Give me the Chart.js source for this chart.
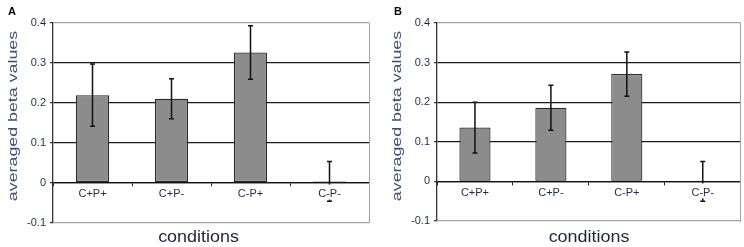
<!DOCTYPE html>
<html><head><meta charset="utf-8">
<script src="https://cdn.jsdelivr.net/npm/chart.js@4/dist/chart.umd.min.js"></script>
<style>
html,body{margin:0;padding:0;background:#fff;}
#wrap{position:relative;width:744px;height:247px;overflow:hidden;}
.cell{position:absolute;top:0;width:372px;height:247px;}
canvas{display:block;}
</style></head><body>
<div id="wrap">
<div class="cell" style="left:0"><canvas id="cA" width="372" height="247"></canvas></div>
<div class="cell" style="left:372px"><canvas id="cB" width="372" height="247"></canvas></div>
</div>
<script>
const categories = ['C+P+', 'C+P-', 'C-P+', 'C-P-'];
const valuesA = [0.219, 0.210, 0.326, 0.003];
const errorsA = [0.078, 0.050, 0.067, 0.050];
const valuesB = [0.136, 0.186, 0.271, 0.0];
const errorsB = [0.064, 0.057, 0.056, 0.050];
const yTickLabels = ['-0.1', '0', '0.1', '0.2', '0.3', '0.4'];
const panelLetters = ['A', 'B'];
const yTitle = 'averaged beta values';
const xTitle = 'conditions';

const FONT = '"Liberation Sans", Arial, Helvetica, sans-serif';
const TICK_COLOR = '#1e2b4a';

const errorBarPlugin = {
  id: 'errorBars',
  afterDatasetsDraw(chart, args, o) {
    const ctx = chart.ctx, y = chart.scales.y;
    const meta = chart.getDatasetMeta(0);
    const vals = chart.data.datasets[0].data;
    ctx.save();
    ctx.strokeStyle = '#111';
    ctx.lineWidth = 1.5;
    meta.data.forEach((bar, i) => {
      const x = bar.x;
      const yt = y.getPixelForValue(vals[i] + o.errors[i]);
      const yb = y.getPixelForValue(vals[i] - o.errors[i]);
      const c = 2.5;
      ctx.beginPath();
      ctx.moveTo(x, yt); ctx.lineTo(x, yb);
      ctx.moveTo(x - c, yt); ctx.lineTo(x + c, yt);
      ctx.moveTo(x - c, yb); ctx.lineTo(x + c, yb);
      ctx.stroke();
    });
    ctx.restore();
  }
};

const panelTextPlugin = {
  id: 'panelText',
  afterDraw(chart, args, o) {
    const ctx = chart.ctx;
    ctx.save();
    ctx.fillStyle = '#000';
    ctx.font = 'bold 11px ' + FONT;
    ctx.textAlign = 'left';
    ctx.textBaseline = 'alphabetic';
    ctx.fillText(o.letter, o.letterX, 15);
    ctx.restore();

    ctx.save();
    ctx.fillStyle = '#1c2440';
    ctx.font = '16px ' + FONT;
    ctx.textAlign = 'center';
    ctx.textBaseline = 'alphabetic';
    ctx.translate(o.xTitleX, 242);
    ctx.scale(1.12, 1);
    ctx.fillText(xTitle, 0, 0);
    ctx.restore();

    ctx.save();
    ctx.fillStyle = '#3f5177';
    ctx.font = '13px ' + FONT;
    ctx.textAlign = 'center';
    ctx.textBaseline = 'middle';
    ctx.translate(o.yTitleX, 116);
    ctx.rotate(-Math.PI / 2);
    ctx.scale(1.37, 1);
    ctx.fillText(yTitle, 0, 0);
    ctx.restore();
  }
};

function makeChart(id, values, errors, g) {
  return new Chart(document.getElementById(id), {
    type: 'bar',
    data: {
      labels: categories,
      datasets: [{
        data: values,
        backgroundColor: '#8c8c8c',
        borderColor: '#2a2a2a',
        borderWidth: 1.2,
        borderSkipped: false,
        barPercentage: 1,
        categoryPercentage: g.catPct
      }]
    },
    plugins: [errorBarPlugin, panelTextPlugin],
    options: {
      responsive: false,
      animation: false,
      devicePixelRatio: 1,
      layout: { padding: { top: 23, right: g.padRight, bottom: g.padBottom, left: 0 } },
      plugins: {
        legend: { display: false },
        tooltip: { enabled: false },
        title: { display: false },
        errorBars: { errors: errors },
        panelText: { letter: g.letter, letterX: g.letterX, xTitleX: g.xTitleX, yTitleX: g.yTitleX }
      },
      scales: {
        x: {
          position: { y: 0 },
          grid: { drawOnChartArea: false, drawTicks: true, tickLength: 3, color: '#222', lineWidth: 1, offset: true },
          border: { display: true, color: '#111', width: 1.3 },
          ticks: {
            z: 1, padding: 3, color: TICK_COLOR, autoSkip: false, maxRotation: 0,
            font: { family: FONT, size: 11, lineHeight: 1 },
            showLabelBackdrop: true, backdropColor: '#ffffff',
            backdropPadding: { top: 4, bottom: 0, left: 2, right: 2 }
          }
        },
        y: {
          min: -0.1, max: 0.4,
          afterFit(s) { s.width = g.yWidth; },
          ticks: {
            stepSize: 0.1, padding: 4, color: TICK_COLOR,
            font: { family: FONT, size: 11 },
            callback: (v, i) => yTickLabels[i]
          },
          grid: {
            color: (c) => {
              const v = c.tick ? c.tick.value : 0;
              return (Math.abs(v - 0.4) < 1e-6 || Math.abs(v + 0.1) < 1e-6) ? '#a3a3a3' : '#1a1a1a';
            },
            lineWidth: 1.2, tickLength: 3, tickColor: '#333', drawTicks: true
          },
          border: { display: true, color: '#333', width: 1.3 }
        },
        y2: {
          position: 'right', min: -0.1, max: 0.4,
          ticks: { display: false },
          grid: { display: false, drawTicks: false },
          border: { display: true, color: '#a3a3a3', width: 1 }
        }
      }
    }
  });
}

makeChart('cA', valuesA, errorsA, {
  letter: panelLetters[0], letterX: 8, xTitleX: 198.5, yTitleX: 13.5,
  yWidth: 53, padRight: 3, padBottom: 24.5, catPct: 0.42
});
makeChart('cB', valuesB, errorsB, {
  letter: panelLetters[1], letterX: 22, xTitleX: 217, yTitleX: 25.5,
  yWidth: 65, padRight: 3.3, padBottom: 26, catPct: 0.41
});
</script>
</body></html>
